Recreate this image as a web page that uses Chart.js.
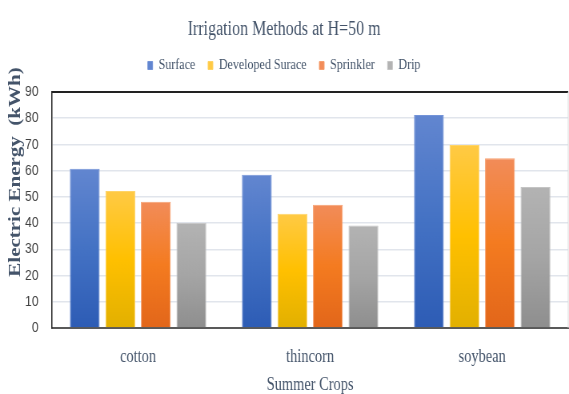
<!DOCTYPE html>
<html>
<head>
<meta charset="utf-8">
<script src="https://cdn.jsdelivr.net/npm/chart.js@4.4.1/dist/chart.umd.min.js"></script>
<style>
  html, body { margin: 0; padding: 0; background: #fff; overflow: hidden; }
  #wrap { width: 569px; height: 394px; overflow: hidden; }
  /* the source image is squeezed sideways, so draw wide and squeeze */
  #chart { transform: scaleX(0.8003); transform-origin: 0 0; }
</style>
</head>
<body>
<div id="wrap"><canvas id="chart" width="711" height="394"></canvas></div>
<script>
const crops = ["cotton", "thincorn", "soybean"];
const methods = ["Surface", "Developed Surace", "Sprinkler", "Drip"];
const surface = [60.7, 58.4, 81.2];
const developed = [52.2, 43.6, 69.8];
const sprinkler = [48.1, 47.0, 64.7];
const drip = [40.1, 39.1, 53.8];
const yTicks = [0, 10, 20, 30, 40, 50, 60, 70, 80, 90];

// [top, middle, bottom, solid (legend), edge]
const shades = [
  ["#6286d0", "#4472c4", "#2d5cb5", "#4472c4", "#7393d8"],
  ["#ffca45", "#ffc000", "#e2b000", "#ffc000", "#ffd466"],
  ["#f28c59", "#f47b20", "#e2661a", "#ed7d31", "#f6a070"],
  ["#b3b3b3", "#a5a5a5", "#8e8e8e", "#a5a5a5", "#c4c4c4"],
];

const slate = "#44546a";
const serif = "'Liberation Serif', 'Times New Roman', serif";

function barFill(i) {
  return (ctx) => {
    const s = shades[i];
    const chart = ctx.chart;
    if (ctx.type !== "data" || !chart.chartArea || !chart.scales.y) return s[3];
    const y = chart.scales.y;
    const top = y.getPixelForValue(ctx.raw);
    const bot = y.getPixelForValue(0);
    if (!isFinite(top) || bot - top < 1) return s[1];
    const g = chart.ctx.createLinearGradient(0, top, 0, bot);
    g.addColorStop(0, s[0]);
    g.addColorStop(0.5, s[1]);
    g.addColorStop(1, s[2]);
    return g;
  };
}

const seriesValues = [surface, developed, sprinkler, drip];
const datasets = methods.map((m, i) => ({
  label: m,
  data: seriesValues[i],
  backgroundColor: barFill(i),
  borderColor: shades[i][4],
  borderWidth: 1,
  barPercentage: 0.84,
  categoryPercentage: 0.826,
}));

// legend needs a bit more room under it
const legendGap = {
  id: "legendGap",
  afterInit(chart) {
    const lg = chart.legend;
    if (!lg || lg._gapPatched) return;
    const fit = lg.fit;
    lg.fit = function () {
      fit.call(this);
      this.height += 9;
    };
    lg._gapPatched = true;
  },
};

// axis titles and the frame lines
const extras = {
  id: "extras",
  afterDraw(chart) {
    const { ctx, chartArea: a } = chart;
    ctx.save();
    ctx.strokeStyle = "#222";
    ctx.lineWidth = 2;
    ctx.beginPath();
    ctx.moveTo(a.left, a.top);
    ctx.lineTo(a.right, a.top);
    ctx.stroke();
    ctx.strokeStyle = "#d9d9d9";
    ctx.lineWidth = 1;
    ctx.beginPath();
    ctx.moveTo(a.right, a.top);
    ctx.lineTo(a.right, a.bottom);
    ctx.stroke();

    ctx.fillStyle = slate;
    ctx.textAlign = "center";
    ctx.textBaseline = "middle";
    ctx.font = "18px " + serif;
    ctx.fillText("Summer Crops", (a.left + a.right) / 2, 385);

    ctx.translate(20, 172);
    ctx.rotate(-Math.PI / 2);
    ctx.font = "bold 21px " + serif;
    ctx.fillText("Electric Energy  (kWh)", 0, 0);
    ctx.restore();
  },
};

new Chart(document.getElementById("chart").getContext("2d"), {
  type: "bar",
  data: { labels: crops, datasets },
  options: {
    responsive: false,
    animation: false,
    devicePixelRatio: 1,
    layout: { padding: { left: 0, right: 1, top: 0, bottom: 0 } },
    plugins: {
      title: {
        display: true,
        text: "Irrigation Methods at H=50 m",
        color: slate,
        font: { family: serif, size: 20, weight: "normal" },
        padding: { top: 18, bottom: 0 },
      },
      legend: {
        position: "top",
        labels: {
          color: slate,
          font: { family: serif, size: 15 },
          boxWidth: 6,
          boxHeight: 8,
          padding: 16,
        },
      },
      tooltip: { enabled: false },
    },
    scales: {
      x: {
        afterFit: (scale) => {
          scale.height = 66;
        },
        grid: { display: false, drawTicks: false },
        border: { display: true, color: "#595959", width: 2 },
        ticks: {
          color: slate,
          font: { family: serif, size: 18 },
          padding: 18,
        },
      },
      y: {
        min: 0,
        max: 90,
        afterBuildTicks: (scale) => {
          scale.ticks = yTicks.map((v) => ({ value: v }));
        },
        afterFit: (scale) => {
          scale.width = 65;
        },
        grid: {
          drawTicks: false,
          color: (c) => (c.tick && c.tick.value === 0 ? "#595959" : "#e1e5ec"),
          lineWidth: 1.5,
        },
        border: { display: true, color: "#222", width: 1.5 },
        ticks: {
          color: "#404040",
          font: { family: "'Liberation Sans Narrow', 'Liberation Sans', Arial, sans-serif", size: 15 },
          padding: 17,
        },
      },
    },
  },
  plugins: [legendGap, extras],
});
</script>
</body>
</html>
